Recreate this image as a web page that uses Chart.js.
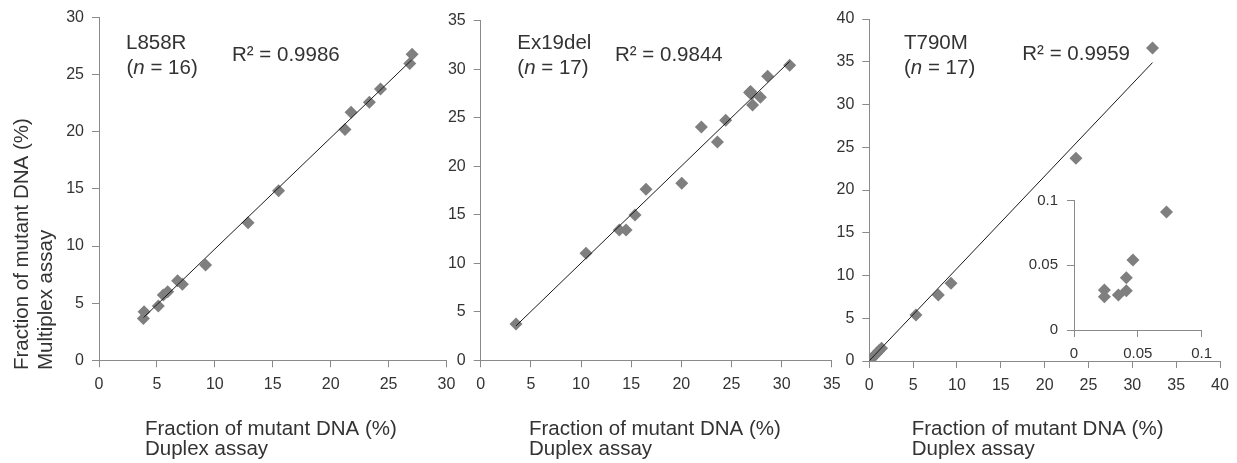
<!DOCTYPE html>
<html>
<head>
<meta charset="utf-8">
<script src="https://cdn.jsdelivr.net/npm/chart.js@4/dist/chart.umd.min.js"></script>
<style>
  body { margin: 0; background: #fff; }
  #wrap { position: relative; width: 1237px; height: 463px; overflow: hidden; }
  canvas { position: absolute; top: 0; }
</style>
</head>
<body>
<div id="wrap">
  <canvas id="c1" width="470" height="463" style="left:0px"></canvas>
  <canvas id="c2" width="450" height="463" style="left:400px"></canvas>
  <canvas id="c3" width="447" height="463" style="left:790px"></canvas>
  <canvas id="c4" width="200" height="190" style="left:1020px;top:180px"></canvas>
</div>
<script>
// L858R
var l858rDuplex    = [3.83, 3.89, 5.12, 5.55, 5.93, 6.79, 7.2, 9.2, 12.87, 15.5, 21.24, 21.76, 23.34, 24.3, 26.83, 27.03];
var l858rMultiplex = [3.67, 4.25, 4.75, 5.71, 6.0, 6.97, 6.65, 8.34, 12.04, 14.84, 20.2, 21.72, 22.6, 23.74, 25.98, 26.8];
var l858rTrendX = [3.85, 27.0];
var l858rTrendY = [3.75, 26.3];

// Ex19del
var ex19Duplex    = [3.52, 10.5, 13.82, 14.49, 15.38, 16.48, 20.04, 22.0, 23.6, 24.42, 26.8, 27.02, 27.1, 27.88, 28.6, 30.8, 26.9];
var ex19Multiplex = [3.74, 11.03, 13.43, 13.43, 14.97, 17.62, 18.24, 24.05, 22.5, 24.73, 27.6, 27.44, 26.31, 27.1, 29.27, 30.4, 27.7];
var ex19TrendX = [3.52, 30.8];
var ex19TrendY = [3.55, 30.8];

// T790M
var t790mDuplex    = [32.3, 23.57, 9.32, 7.87, 5.32, 1.4, 1.1, 0.8, 0.5, 0.25, 0.0725, 0.0462, 0.041, 0.041, 0.0348, 0.0238, 0.0238];
var t790mMultiplex = [36.6, 23.7, 9.09, 7.72, 5.38, 1.5, 1.2, 0.85, 0.55, 0.3, 0.0913, 0.0541, 0.0405, 0.0304, 0.027, 0.0309, 0.0258];
var t790mTrendX = [0.02, 32.3];
var t790mTrendY = [0.05, 34.9];

var xTitle = ['Fraction of mutant DNA (%)', 'Duplex assay'];
var yTitle = ['Fraction of mutant DNA (%)', 'Multiplex assay'];

var font = "'Liberation Sans', Arial, sans-serif";
var ink = '#333333';
var axisGrey = '#8a8a8a';
var markGrey = '#7f7f7f';

function pairs(xs, ys, lim) {
  var out = [];
  for (var i = 0; i < xs.length; i++) {
    if (lim && (xs[i] > lim || ys[i] > lim)) continue;
    out.push({x: xs[i], y: ys[i]});
  }
  return out;
}

// draws the panel texts; parts with i:true are italic
var notes = {
  id: 'notes',
  afterDraw: function(chart, args, opts) {
    var ctx = chart.ctx;
    var items = opts.items || [];
    for (var k = 0; k < items.length; k++) {
      var it = items[k];
      var size = it.size || 20.5;
      ctx.save();
      ctx.fillStyle = ink;
      ctx.textAlign = 'left';
      ctx.textBaseline = 'alphabetic';
      ctx.translate(it.x, it.y);
      if (it.rot) ctx.rotate(-Math.PI / 2);
      var parts = typeof it.text === 'string' ? [{t: it.text}] : it.text;
      var cx = 0;
      for (var p = 0; p < parts.length; p++) {
        ctx.font = (parts[p].i ? 'italic ' : '') + size + 'px ' + font;
        ctx.fillText(parts[p].t, cx, 0);
        cx += ctx.measureText(parts[p].t).width;
      }
      ctx.restore();
    }
  }
};

function tickText(v) {
  return String(+v.toFixed(2));
}

function axis(max, step, size, horizontal, fontSize, pad) {
  return {
    type: 'linear',
    min: 0,
    max: max,
    afterFit: function(s) { if (horizontal) s.height = size; else s.width = size; },
    ticks: {
      stepSize: step, color: ink, padding: pad, autoSkip: false, maxRotation: 0,
      font: {family: font, size: fontSize},
      callback: tickText
    },
    grid: {drawOnChartArea: false, drawTicks: true, tickLength: 7, color: axisGrey, lineWidth: 1},
    border: {display: true, color: axisGrey, width: 1}
  };
}

function panel(id, pts, trend, c) {
  var sets = [];
  if (trend) {
    sets.push({data: trend, showLine: true, borderColor: '#1a1a1a', borderWidth: 1,
               pointRadius: 0, order: 0});
  }
  sets.push({data: pts, pointStyle: 'rectRot', pointRadius: c.r || 6.5,
             backgroundColor: markGrey, borderWidth: 0, order: 1});
  return new Chart(document.getElementById(id), {
    type: 'scatter',
    data: {datasets: sets},
    options: {
      responsive: false,
      animation: false,
      events: [],
      layout: {padding: c.pad},
      plugins: {legend: {display: false}, tooltip: {enabled: false}, notes: {items: c.notes || []}},
      scales: {
        x: axis(c.xMax, c.xStep, c.xSize, true, c.fs || 16, 8),
        y: axis(c.yMax, c.yStep, c.ySize, false, c.fs || 16, c.yPad || 8)
      }
    },
    plugins: [notes]
  });
}

function xTitleNotes(x) {
  return [{text: xTitle[0], x: x, y: 435}, {text: xTitle[1], x: x, y: 454.5}];
}

panel('c1', pairs(l858rDuplex, l858rMultiplex), pairs(l858rTrendX, l858rTrendY), {
  xMax: 30, xStep: 5, yMax: 30, yStep: 5, xSize: 102.7, ySize: 99,
  pad: {left: 0, right: 23.5, top: 17.3, bottom: 0},
  notes: [
    {text: 'L858R', x: 126, y: 49.3},
    {text: [{t: '('}, {t: 'n', i: true}, {t: ' = 16)'}], x: 126.5, y: 73.5},
    {text: 'R\u00b2 = 0.9986', x: 232, y: 60.7},
    {text: yTitle[0], x: 28.3, y: 370, rot: true},
    {text: yTitle[1], x: 51.7, y: 370, rot: true}
  ].concat(xTitleNotes(145))
});

panel('c2', pairs(ex19Duplex, ex19Multiplex), pairs(ex19TrendX, ex19TrendY), {
  xMax: 35, xStep: 5, yMax: 35, yStep: 5, xSize: 102.7, ySize: 80.7,
  pad: {left: 0, right: 18.2, top: 20.7, bottom: 0},
  notes: [
    {text: 'Ex19del', x: 117.3, y: 49.3},
    {text: [{t: '('}, {t: 'n', i: true}, {t: ' = 17)'}], x: 117.3, y: 73.5},
    {text: 'R\u00b2 = 0.9844', x: 215, y: 60.7}
  ].concat(xTitleNotes(129))
});

panel('c3', pairs(t790mDuplex, t790mMultiplex), pairs(t790mTrendX, t790mTrendY), {
  xMax: 40, xStep: 5, yMax: 40, yStep: 5, xSize: 102, ySize: 79.3,
  pad: {left: 0, right: 17, top: 19, bottom: 0},
  notes: [
    {text: 'T790M', x: 114, y: 49.3},
    {text: [{t: '('}, {t: 'n', i: true}, {t: ' = 17)'}], x: 114, y: 73.5},
    {text: 'R\u00b2 = 0.9959', x: 232.3, y: 60}
  ].concat(xTitleNotes(121.7))
});

// inset: the T790M points below 0.1 %
panel('c4', pairs(t790mDuplex, t790mMultiplex, 0.1), null, {
  xMax: 0.1, xStep: 0.05, yMax: 0.1, yStep: 0.05, xSize: 40, ySize: 54,
  pad: {left: 0, right: 16, top: 20.7, bottom: 0}, fs: 15, yPad: 9
});
</script>
</body>
</html>
